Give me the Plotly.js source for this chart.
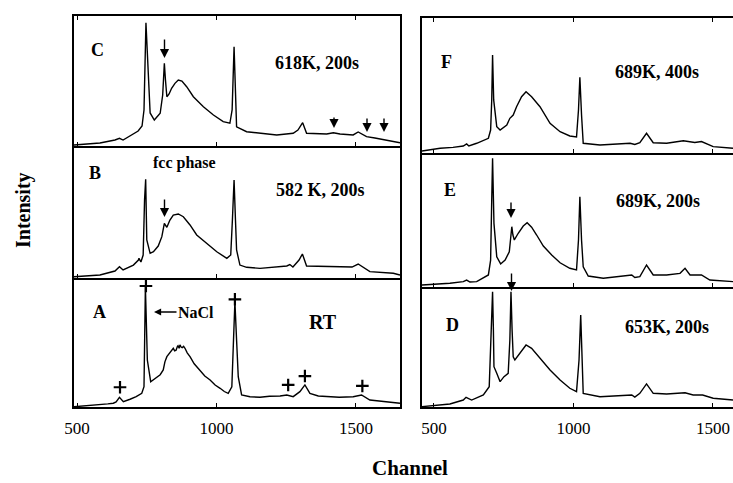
<!DOCTYPE html>
<html>
<head>
<meta charset="utf-8">
<script src="https://cdn.plot.ly/plotly-3.0.1.min.js"></script>
<style>html,body{margin:0;padding:0;background:#fff;}#plot{width:733px;height:483px;}</style>
</head>
<body>
<div id="plot"></div>
<script>
// ---------- DATA (channel, intensity in arbitrary units) ----------
const tickVals = [500, 1000, 1500];
const tickText = ["500", "1000", "1500"];

// Panel C: 618K, 200s
const chC = [489,582,636,652,665,696,719,733,740,747,755,762,777,798,807,813,817,822,830,839,851,863,876,893,917,953,989,1024,1048,1056,1063,1068,1072,1108,1216,1275,1292,1309,1323,1395,1419,1443,1490,1508,1538,1568,1604,1658];
const yC  = [0.8,2.3,4.6,5.9,4.6,8.5,11.5,15.4,27.7,94.8,50.8,25.4,20,25.2,39.2,63.6,50.8,37.9,40,44.4,48.2,50.8,50,45.6,37.9,30.2,23.8,18.7,17.5,27.7,76.4,35.4,14.8,11,8.5,9.8,12.3,17.9,9.8,9.2,10.2,9.2,8.5,10.8,7.2,6.2,4.6,2.5];

// Panel B: 582 K, 200s
const chB = [489,582,636,652,665,702,720,722,729,737,742,746,750,762,774,791,804,813,822,833,845,863,881,905,929,965,1001,1037,1051,1057,1063,1068,1072,1084,1108,1156,1252,1263,1274,1296,1308,1323,1395,1486,1508,1550,1634,1658];
const yB  = [1.0,2.3,5.3,8.6,6.1,9.8,13.6,14.9,12.1,17.4,59.1,74.8,28.8,18.7,19.9,24.2,31.3,41.4,38.4,43.9,47.7,48.5,46.4,40.2,32.6,26.3,19.9,14.9,17.4,43.9,74.2,43.9,21.2,9.8,8.1,7.3,9.1,10.2,8.3,13.6,18.2,9.1,8.6,8.3,10.6,4.8,3.6,2.3];

// Panel A: RT
const chA = [489,560,582,610,630,640,652,666,690,712,732,740,745,752,764,776,786,798,809,815,822,829,835,840,845,850,855,860,862,866,869,873,877,882,887,895,905,920,941,958,977,995,1013,1028,1042,1055,1061,1066,1072,1078,1090,1120,1156,1190,1228,1252,1275,1299,1317,1335,1365,1395,1440,1490,1520,1550,1590,1634,1658];
const yA  = [0.2,1.2,1.6,2.4,2.9,3.9,7.5,4.1,6.0,8.0,10.6,15.7,93.3,36.4,19.6,21.5,23.5,25.0,28.7,35.0,39.0,41.0,42.5,44.5,45.5,43.5,44.0,47.0,47.5,45.5,48.1,46.5,46.0,47.0,45.5,42.0,39.0,33.5,28.7,24.0,20.9,17.0,14.5,12.0,10.6,15.7,51.9,81.6,51.9,23.5,9.3,8.0,7.5,8.3,8.5,9.3,8.0,11.9,17.1,10.6,8.5,8.0,7.5,8.0,9.3,5.4,4.6,3.3,2.9];
// "+" marks in panel A
const plusCh = [747,1066,654,1257,1317,1523];
const plusY  = [93.8,83.5,15.3,17.1,24.0,16.3];

// Panel F: 689K, 400s
const chF = [457,522,568,605,617,625,653,695,703,707,710,714,725,737,761,772,784,796,814,830,850,880,916,952,987,1011,1018,1023,1029,1035,1095,1203,1220,1238,1262,1286,1334,1394,1435,1459,1501,1572];
const yF  = [1.5,3.5,4.2,5.2,6.7,5.2,7.2,10.9,17.0,39.3,72.6,39.3,19.5,17.0,20.7,25.7,28.1,34.3,41.7,45.4,41.7,34.3,22.0,15.8,12.6,11.9,31.9,56.1,28.1,7.2,5.9,7.2,6.3,7.6,14.6,7.6,7.2,9.1,7.8,8.5,4.7,3.5];

// Panel E: 689K, 200s
const chE = [457,557,605,617,629,653,695,703,707,710,715,725,739,755,770,774,779,783,788,802,820,834,850,868,892,922,952,987,1011,1018,1023,1029,1035,1053,1107,1209,1220,1238,1262,1286,1334,1382,1400,1418,1459,1489,1572];
const yE  = [1.5,2.8,4.0,5.2,3.7,4.0,9.0,20.1,64.9,96.0,47.5,22.6,17.2,20.1,26.3,35.1,45.0,38.8,35.1,40.1,45.5,48.0,44.6,38.8,30.6,23.9,18.1,14.0,12.7,35.1,67.4,35.1,15.1,8.2,6.5,9.0,7.1,7.7,16.4,9.0,9.0,10.2,14.0,9.0,9.0,5.2,4.0];

// Panel D: 653K, 200s
const chD = [457,557,605,615,635,677,698,704,710,713,715,725,737,751,766,772,776,780,784,790,808,830,850,880,916,952,987,1011,1020,1026,1030,1035,1095,1173,1209,1220,1238,1262,1286,1334,1400,1429,1463,1501,1572];
const yD  = [0.3,2.5,5.8,8.1,5.8,10.0,16.9,55.8,96.1,64.2,33.6,28.1,21.1,25.3,28.1,55.8,96.1,64.2,41.9,39.2,44.8,51.7,48.9,40.6,30.8,22.5,15.6,12.8,39.2,76.7,39.2,11.4,8.6,9.2,10.0,8.3,11.4,19.2,11.4,10.8,11.9,10.0,10.0,7.3,5.8];

const panelLetters = ["C","B","A","F","E","D"];
const panelConds = ["618K, 200s","582 K, 200s","RT","689K, 400s","689K, 200s","653K, 200s"];

// ---------- LAYOUT ----------
const W = 733, H = 483;
const px = x => x / W, py = y => 1 - y / H;
const SERIF = "Liberation Serif, Times New Roman, serif";

const leftDom = [px(74), px(400)], rightDom = [px(422), 1];
const leftRange = [489, 1658], rightRange = [457, 1572];

const panels = [
  {ax: 1, xd: leftDom,  yd: [py(407), py(278)], r: leftRange,  labels: true,  right: true,  top: false},  // A
  {ax: 2, xd: leftDom,  yd: [py(278), py(146)], r: leftRange,  labels: false, right: true,  top: false},  // B
  {ax: 3, xd: leftDom,  yd: [py(146), py(16)],  r: leftRange,  labels: false, right: true,  top: true},   // C
  {ax: 4, xd: rightDom, yd: [py(407), py(287)], r: rightRange, labels: true,  right: false, top: false},  // D
  {ax: 5, xd: rightDom, yd: [py(287), py(153)], r: rightRange, labels: false, right: false, top: false},  // E
  {ax: 6, xd: rightDom, yd: [py(153), py(18)],  r: rightRange, labels: false, right: false, top: true}    // F
];

const layout = {
  width: W, height: H,
  margin: {l: 0, r: 0, t: 0, b: 0},
  paper_bgcolor: "#fff", plot_bgcolor: "#fff",
  showlegend: false,
  font: {family: SERIF, color: "#000"},
  annotations: [], shapes: []
};

panels.forEach(p => {
  const s = p.ax === 1 ? "" : p.ax;
  layout["xaxis" + s] = {
    domain: p.xd, range: p.r, anchor: "y" + s,
    showline: true, linewidth: 2, linecolor: "#000", mirror: p.top ? "ticks" : false,
    ticks: "inside", ticklen: 4, tickwidth: 1, tickcolor: "#000",
    tickvals: tickVals, ticktext: tickText, showticklabels: p.labels,
    tickfont: {family: SERIF, size: 17, color: "#000"},
    ticklabelstandoff: 5,
    showgrid: false, zeroline: false, fixedrange: true
  };
  layout["yaxis" + s] = {
    domain: p.yd, range: [0, 100], anchor: "x" + s,
    showline: true, linewidth: 2, linecolor: "#000", mirror: p.right,
    showticklabels: false, ticks: "", showgrid: false, zeroline: false, fixedrange: true
  };
});

const mkTrace = (x, y, ax) => ({
  x: x, y: y, xaxis: "x" + (ax === 1 ? "" : ax), yaxis: "y" + (ax === 1 ? "" : ax),
  type: "scatter", mode: "lines", line: {color: "#000", width: 1.4}, hoverinfo: "skip"
});

const data = [
  mkTrace(chA, yA, 1), mkTrace(chB, yB, 2), mkTrace(chC, yC, 3),
  mkTrace(chD, yD, 4), mkTrace(chE, yE, 5), mkTrace(chF, yF, 6),
  {x: plusCh, y: plusY, xaxis: "x", yaxis: "y", type: "scatter", mode: "markers",
   marker: {symbol: "cross-thin", size: 9, line: {color: "#000", width: 2.2}}, hoverinfo: "skip"}
];

const txt = (x, y, t, size, extra) => Object.assign({
  xref: "paper", yref: "paper", x: px(x), y: py(y), text: t, showarrow: false,
  font: {family: SERIF, size: size, color: "#000", weight: "bold"}, xanchor: "center", yanchor: "middle"
}, extra || {});

const letterPos = [[97, 50], [95, 173], [99, 312], [447, 62], [450, 190], [452, 325]];
const condPos = [[317, 63], [320, 190], [323, 322], [657, 72], [658, 201], [667, 327]];
panelLetters.forEach((l, i) => layout.annotations.push(txt(letterPos[i][0], letterPos[i][1], l, 18)));
panelConds.forEach((c, i) => layout.annotations.push(txt(condPos[i][0], condPos[i][1], c, i === 2 ? 20 : 18)));
layout.annotations.push(txt(184, 163, "fcc phase", 16));

const arrows = [[164.5, 58, 20], [334, 128, 12], [367, 132, 15], [384, 132, 15], [164.5, 217, 19], [511, 218, 17], [511.5, 291, 19]];
arrows.forEach(a => layout.annotations.push({
  xref: "paper", yref: "paper", x: px(a[0]), y: py(a[1]), ax: 0, ay: -a[2], text: "",
  showarrow: true, arrowhead: 2, arrowsize: 1.3, arrowwidth: 1.4, arrowcolor: "#000", standoff: 0
}));
layout.annotations.push({
  xref: "paper", yref: "paper", x: px(154), y: py(312), ax: 42, ay: 0, text: "NaCl",
  showarrow: true, arrowhead: 2, arrowsize: 1.1, arrowwidth: 1.3, arrowcolor: "#000", standoff: 0,
  font: {family: SERIF, size: 16, color: "#000", weight: "bold"}
});

layout.annotations.push(txt(410, 468, "Channel", 21));
layout.annotations.push(txt(24, 210, "Intensity", 20, {textangle: -90}));

Plotly.newPlot("plot", data, layout, {staticPlot: true, displayModeBar: false});
</script>
</body>
</html>
